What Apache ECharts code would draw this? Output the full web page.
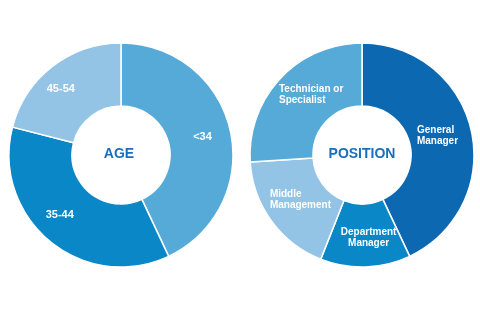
<!DOCTYPE html>
<html><head><meta charset="utf-8">
<script src="https://cdn.jsdelivr.net/npm/echarts@6/dist/echarts.min.js"></script>
<style>html,body{margin:0;padding:0;background:#fff}#c{width:480px;height:316px}</style>
</head><body><div id="c"></div>
<script>
const ageCategories = ['<34', '35-44', '45-54'];
const ageValues = [43, 36, 21];
const posCategories = ['General\nManager', 'Department\nManager', 'Middle\nManagement', 'Technician or\nSpecialist'];
const posValues = [43, 13, 18, 26];
const centerTitles = ['AGE', 'POSITION'];

// styling / layout (kept apart from the data)
const ageColors = ['#55aad8', '#0a87c6', '#93c4e6'];
const posColors = ['#0b68b1', '#0a87c6', '#93c4e6', '#55aad8'];
const posLabelAlign = ['left', 'center', 'left', 'left'];
const ageLabelNudge = [[0, 0], [-8, -4], [-9, 0]];
const posLabelNudge = [[-6, -1], [4, -1], [6, -4], [10, -3]];

const font = '"Liberation Sans", Arial, sans-serif';
const chart = echarts.init(document.getElementById('c'), null, {renderer: 'canvas'});
function mk(cats, vals, cols, nudge) {
  return cats.map((n, i) => ({name: n, value: vals[i], itemStyle: {color: cols[i]}, label: {offset: nudge[i]}}));
}
const posData = mk(posCategories, posValues, posColors, posLabelNudge).map((d, i) => {
  const key = posLabelAlign[i] === 'left' ? 'l' : 'c';
  d.label.formatter = d.name.split('\n').map(s => '{' + key + '|' + s + '}').join('\n');
  return d;
});
const richBase = {color: '#fff', fontWeight: 'bold', fontSize: 10, lineHeight: 11, fontFamily: font};
chart.setOption({
  animation: false,
  graphic: [
    {type: 'text', x: 119, y: 154, silent: true,
     style: {text: centerTitles[0], fill: '#1a6fb8', font: 'bold 14px ' + font, textAlign: 'center', textVerticalAlign: 'middle'}},
    {type: 'text', x: 362, y: 154, silent: true,
     style: {text: centerTitles[1], fill: '#1a6fb8', font: 'bold 14px ' + font, textAlign: 'center', textVerticalAlign: 'middle'}}
  ],
  series: [
    {type: 'pie', center: [121, 155], radius: [49, 112], startAngle: 90, clockwise: true,
     avoidLabelOverlap: false, silent: true,
     itemStyle: {borderColor: '#fff', borderWidth: 1.5},
     label: {show: true, position: 'inside', color: '#fff', fontWeight: 'bold', fontSize: 11, fontFamily: font},
     labelLine: {show: false},
     data: mk(ageCategories, ageValues, ageColors, ageLabelNudge)},
    {type: 'pie', center: [362, 155], radius: [49, 112], startAngle: 90, clockwise: true,
     avoidLabelOverlap: false, silent: true,
     itemStyle: {borderColor: '#fff', borderWidth: 1.5},
     label: {show: true, position: 'inside', color: '#fff', fontWeight: 'bold', fontSize: 10, lineHeight: 11, fontFamily: font,
       rich: {l: Object.assign({align: 'left'}, richBase), c: Object.assign({align: 'center'}, richBase)}},
     labelLine: {show: false},
     data: posData}
  ]
});
</script></body></html>
